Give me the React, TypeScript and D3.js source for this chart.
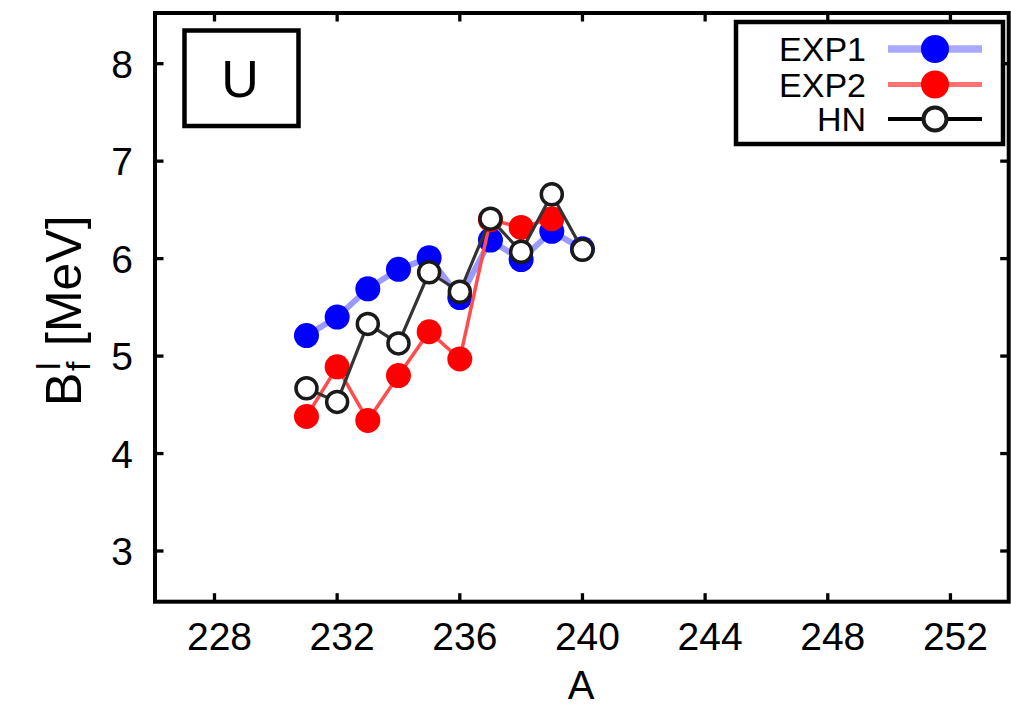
import React from "react";
import * as d3 from "d3";

// Fission barrier heights of uranium isotopes
const massNumbers = [231, 232, 233, 234, 235, 236, 237, 238, 239, 240];
const exp1Values = [5.21, 5.4, 5.69, 5.89, 6.01, 5.6, 6.19, 5.99, 6.28, 6.1];
const exp2Values = [4.38, 4.89, 4.34, 4.8, 5.25, 4.97, 6.4, 6.32, 6.41];
const hnValues = [4.67, 4.53, 5.33, 5.13, 5.86, 5.66, 6.41, 6.07, 6.66, 6.09];

const xTicks = [228, 232, 236, 240, 244, 248, 252];
const yTicks = [3, 4, 5, 6, 7, 8];
const xDomain: [number, number] = [226.06, 253.9];
const yDomain: [number, number] = [2.48, 8.52];

const FONT = "'Liberation Sans', Arial, Helvetica, sans-serif";

const W = 1011;
const H = 709;
const frame = { left: 155, right: 1008.7, top: 13, bottom: 601.7 };

type Pt = { a: number; v: number };
const toPts = (vals: number[]): Pt[] => vals.map((v, i) => ({ a: massNumbers[i], v }));

export default function App() {
  const x = d3.scaleLinear().domain(xDomain).range([frame.left, frame.right]);
  const y = d3.scaleLinear().domain(yDomain).range([frame.bottom, frame.top]);
  const line = d3
    .line<Pt>()
    .x((d) => x(d.a))
    .y((d) => y(d.v));

  const exp1 = toPts(exp1Values);
  const exp2 = toPts(exp2Values);
  const hn = toPts(hnValues);

  const tickLen = 8.5;
  const r = 12.5;

  const legendRows = [
    { label: "EXP1", y: 49, kind: "exp1" },
    { label: "EXP2", y: 84.5, kind: "exp2" },
    { label: "HN", y: 119, kind: "hn" },
  ];

  return (
    <svg
      width={W}
      height={H}
      viewBox={`0 0 ${W} ${H}`}
      style={{ position: "absolute", left: 0, top: 0, background: "#fff" }}
      fontFamily={FONT}
    >
      <rect x={0} y={0} width={W} height={H} fill="#fff" />

      {/* ticks on all four sides */}
      <g stroke="#000" strokeWidth={3.3}>
        {xTicks.map((t) => (
          <g key={"xt" + t}>
            <line x1={x(t)} x2={x(t)} y1={frame.bottom} y2={frame.bottom - tickLen} />
            <line x1={x(t)} x2={x(t)} y1={frame.top} y2={frame.top + tickLen} />
          </g>
        ))}
        {yTicks.map((t) => (
          <g key={"yt" + t}>
            <line x1={frame.left} x2={frame.left + tickLen} y1={y(t)} y2={y(t)} />
            <line x1={frame.right} x2={frame.right - tickLen} y1={y(t)} y2={y(t)} />
          </g>
        ))}
      </g>

      {/* tick labels */}
      <g fontSize={39} fill="#000">
        {xTicks.map((t) => (
          <text key={"xl" + t} x={x(t) + 5} y={650} textAnchor="middle">
            {t}
          </text>
        ))}
        {yTicks.map((t) => (
          <text key={"yl" + t} x={133} y={y(t) + 14} textAnchor="end">
            {t}
          </text>
        ))}
      </g>

      {/* axis titles */}
      <text x={581} y={699} fontSize={40} textAnchor="middle" fill="#000">
        A
      </text>
      <g transform="translate(81,406) rotate(-90)" fill="#000">
        <text x={0} y={0} fontSize={50}>B</text>
        <text x={35} y={9} fontSize={34}>f</text>
        <text x={36} y={-21} fontSize={34}>l</text>
        <text x={60} y={0} fontSize={50}>[MeV]</text>
      </g>

      {/* EXP1 */}
      <path d={line(exp1) ?? ""} fill="none" stroke="#9a9aff" strokeWidth={6} />
      {exp1.map((d) => (
        <circle key={"e1" + d.a} cx={x(d.a)} cy={y(d.v)} r={r} fill="#0000ff" />
      ))}

      {/* EXP2 */}
      <path d={line(exp2) ?? ""} fill="none" stroke="#ff4c4c" strokeWidth={3.5} />
      {exp2.map((d) => (
        <circle key={"e2" + d.a} cx={x(d.a)} cy={y(d.v)} r={r} fill="#ff0000" />
      ))}

      {/* HN */}
      <path d={line(hn) ?? ""} fill="none" stroke="#333" strokeWidth={3.2} />
      {hn.map((d) => (
        <circle
          key={"hn" + d.a}
          cx={x(d.a)}
          cy={y(d.v)}
          r={10.5}
          fill="#fff"
          stroke="#1a1a1a"
          strokeWidth={3.5}
        />
      ))}

      {/* element label */}
      <rect x={184.5} y={30.5} width={114} height={95.5} fill="#fff" stroke="#000" strokeWidth={4.5} />
      <text x={240} y={97} fontSize={52} textAnchor="middle" fill="#000">
        U
      </text>

      {/* legend */}
      <rect x={736} y={22} width={267} height={122} fill="#fff" stroke="#000" strokeWidth={4.5} />
      {legendRows.map((row) => (
        <g key={row.label}>
          <text x={866} y={row.y + 12} fontSize={34} textAnchor="end" fill="#000">
            {row.label}
          </text>
          {row.kind === "exp1" && (
            <>
              <line x1={888} x2={982} y1={row.y} y2={row.y} stroke="#a8a8ff" strokeWidth={7.5} />
              <circle cx={935} cy={row.y} r={14} fill="#0000ff" />
            </>
          )}
          {row.kind === "exp2" && (
            <>
              <line x1={888} x2={982} y1={row.y} y2={row.y} stroke="#ff7070" strokeWidth={5} />
              <circle cx={935} cy={row.y} r={14} fill="#ff0000" />
            </>
          )}
          {row.kind === "hn" && (
            <>
              <line x1={888} x2={982} y1={row.y} y2={row.y} stroke="#000" strokeWidth={4} />
              <circle cx={935} cy={row.y} r={11.5} fill="#fff" stroke="#1a1a1a" strokeWidth={4} />
            </>
          )}
        </g>
      ))}

      {/* plot frame */}
      <rect
        x={frame.left}
        y={frame.top}
        width={frame.right - frame.left}
        height={frame.bottom - frame.top}
        fill="none"
        stroke="#000"
        strokeWidth={4}
      />
    </svg>
  );
}
